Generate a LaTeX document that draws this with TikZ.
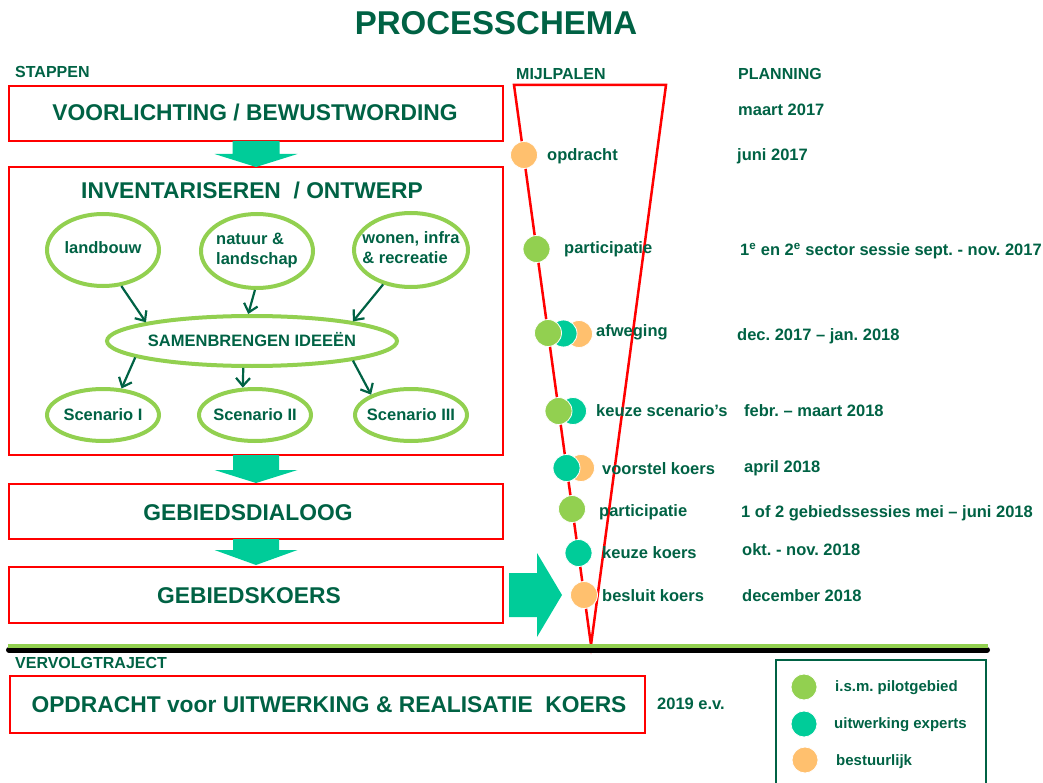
\documentclass[tikz,border=0pt]{standalone}
\usepackage{fontspec}
\setmainfont{Liberation Sans}
\usetikzlibrary{shapes.geometric,arrows.meta,calc}
\frenchspacing
\definecolor{dg}{RGB}{0,98,68}
\definecolor{lg}{RGB}{146,208,80}
\definecolor{tq}{RGB}{0,204,153}
\definecolor{og}{RGB}{255,192,110}
\definecolor{rd}{RGB}{255,0,0}
\newcommand\fL{\fontsize{16.5}{20}\selectfont\bfseries}
\newcommand\fB{\fontsize{22.8}{26}\selectfont\bfseries}
\newcommand\fH{\fontsize{16}{19}\selectfont\bfseries}
\newcommand\fS{\fontsize{15}{18}\selectfont\bfseries}
\newcommand\fT{\fontsize{33}{38}\selectfont\bfseries}
\tikzset{
  box/.style={draw=rd, line width=2.5pt, rectangle, inner sep=0, outer sep=0},
  btxt/.style={font=\fB, text=dg, inner sep=0, text height=16.3pt, text depth=0pt},
  lab/.style={anchor=west, inner sep=0, font=\fL, text=dg, text height=11.8pt, text depth=0pt},
  hdr/.style={anchor=west, inner sep=0, font=\fH, text=dg, text height=11.5pt, text depth=0pt},
  legtxt/.style={anchor=west, inner sep=0, font=\fS, text=dg, text height=10.7pt, text depth=0pt},
  elli/.style={ellipse, draw=lg, line width=4pt, inner sep=0, font=\fL, text=dg},
  one/.style={text height=11.8pt, text depth=0pt},
  dot/.style={circle, draw=white, line width=0.8pt, minimum size=27pt, inner sep=0},
  ldot/.style={circle, draw=white, line width=0.8pt, minimum size=26pt, inner sep=0},
  arr/.style={draw=dg, line width=2.2pt, -{Straight Barb[length=8pt,width=14pt]}},
  blk/.style={fill=tq},
}
\begin{document}
\frenchspacing
\begin{tikzpicture}[x=1pt,y=-1pt]
\useasboundingbox (0,0) rectangle (1043,783);

% title and headers
\node[font=\fT, text=dg, inner sep=0, text height=23.6pt, text depth=0pt] (title) at (496,22.5) {PROCESSCHEMA};
\node[hdr] (hstap) at (15,72) {STAPPEN};
\node[hdr] (hmijl) at (516,74) {MIJLPALEN};
\node[hdr] (hplan) at (738,74) {PLANNING};

% step boxes
\node[box, minimum width=494pt, minimum height=55pt] (b1) at (256,113.5) {};
\node[box, minimum width=494pt, minimum height=288pt] (b2) at (256,311) {};
\node[box, minimum width=494pt, minimum height=55pt] (b3) at (256,511.5) {};
\node[box, minimum width=494pt, minimum height=56pt] (b4) at (256,595) {};
\node[box, minimum width=635pt, minimum height=57pt] (b5) at (327.5,704.5) {};

\node[btxt] (t1) at (255,112) {VOORLICHTING / BEWUSTWORDING};
\node[btxt] (t2) at (252,190) {INVENTARISEREN\ \ / ONTWERP};
\node[btxt] (t3) at (248,512) {GEBIEDSDIALOOG};
\node[btxt] (t4) at (249,595) {GEBIEDSKOERS};
\node[btxt] (t5) at (329,704) {OPDRACHT voor UITWERKING \& REALISATIE\ \ KOERS};

% block arrows between boxes
\fill[blk] ($(b1.south)+(-23.5,0)$) -- ($(b1.south)+(23.5,0)$) -- ($(b1.south)+(23.5,13)$) -- ($(b1.south)+(41.5,13)$)
  -- (b2.north) -- ($(b1.south)+(-41.5,13)$) -- ($(b1.south)+(-23.5,13)$) -- cycle;
\fill[blk] ($(b2.south)+(-23,0)$) -- ($(b2.south)+(23,0)$) -- ($(b2.south)+(23,15)$) -- ($(b2.south)+(41.5,15)$)
  -- ($(b3.north)+(0,-1)$) -- ($(b2.south)+(-41.5,15)$) -- ($(b2.south)+(-23,15)$) -- cycle;
\fill[blk] ($(b3.south)+(-23,0)$) -- ($(b3.south)+(23,0)$) -- ($(b3.south)+(23,11)$) -- ($(b3.south)+(41.5,11)$)
  -- ($(b4.north)+(0,-2)$) -- ($(b3.south)+(-41.5,11)$) -- ($(b3.south)+(-23,11)$) -- cycle;
% big arrow to milestones
\fill[blk] ($(b4.east)+(6,-22)$) -- ($(b4.east)+(34,-22)$) -- ($(b4.east)+(34,-42)$) -- ($(b4.east)+(59,0)$)
  -- ($(b4.east)+(34,42)$) -- ($(b4.east)+(34,22)$) -- ($(b4.east)+(6,22)$) -- cycle;

% ellipses
\node[elli, minimum width=112pt, minimum height=72pt] (land) at (103,250) {\makebox[0pt]{\raisebox{4pt}{landbouw}}};
\node[elli, minimum width=112pt, minimum height=74pt] (nat) at (257,251) {\makebox[0pt]{\raisebox{2pt}{\begin{tabular}{@{}l@{}}natuur \&\\landschap\end{tabular}}}};
\node[elli, minimum width=114pt, minimum height=74pt] (won) at (411,250) {\makebox[0pt]{\raisebox{1pt}{\begin{tabular}{@{}l@{}}wonen, infra\\\& recreatie\end{tabular}}}};
\node[elli, one, minimum width=290pt, minimum height=50pt] (sam) at (252,341) {\makebox[0pt]{SAMENBRENGEN IDEEËN}};
\node[elli, one, minimum width=112pt, minimum height=52pt] (s1) at (103,415) {\makebox[0pt]{Scenario I}};
\node[elli, one, minimum width=112pt, minimum height=52pt] (s2) at (255,415) {\makebox[0pt]{Scenario II}};
\node[elli, one, minimum width=112pt, minimum height=52pt] (s3) at (411,415) {\makebox[0pt]{Scenario III}};

\draw[arr] (land.-63) -- (sam.170);
\draw[arr] (nat.-93) -- (sam.98);
\draw[arr] (won.-129) -- (sam.11);
\draw[arr] (sam.-172) -- (s1.55);
\draw[arr] (sam.-108) -- (s2.114);
\draw[arr] (sam.-11) -- (s3.153);

% funnel
\coordinate (ftl) at (514,85);
\coordinate (ftr) at (666,85);
\coordinate (ftip) at (591,645);
\draw[rd, line width=2.5pt, line join=miter] (ftl) -- (ftip) -- (ftr) -- cycle;

% milestone dots
\node[dot, fill=og] (m1) at (524,155) {};
\node[dot, fill=lg] (m2) at (536.5,249) {};
\node[dot, fill=og] (m3c) at (579,334) {};
\node[dot, fill=tq] (m3b) at (563.5,333.5) {};
\node[dot, fill=lg] (m3a) at (548,333) {};
\node[dot, fill=tq] (m4b) at (573,411) {};
\node[dot, fill=lg] (m4a) at (558.5,411) {};
\node[dot, fill=og] (m5b) at (581,468) {};
\node[dot, fill=tq] (m5a) at (566.5,468) {};
\node[dot, fill=lg] (m6) at (572,509) {};
\node[dot, fill=tq] (m7) at (578.5,553) {};
\node[dot, fill=og] (m8) at (584,595) {};

% milestone labels
\node[lab] (l1) at (547,155) {opdracht};
\node[lab] (l2) at (564,248) {participatie};
\node[lab] (l3) at (596,331) {afweging};
\node[lab] (l4) at (596,411) {keuze scenario's};
\node[lab] (l5) at (602,469) {voorstel koers};
\node[lab] (l6) at (599,511) {participatie};
\node[lab] (l7) at (602,553) {keuze koers};
\node[lab] (l8) at (602,596) {besluit koers};

% planning
\node[lab] (p0) at (738,110) {maart 2017};
\node[lab] (p1) at (737,155) {juni 2017};
\node[lab] (p2) at (740,250) {1\textsuperscript{e} en 2\textsuperscript{e} sector sessie sept. - nov. 2017};
\node[lab] (p3) at (737,335) {dec. 2017 – jan. 2018};
\node[lab] (p4) at (744,411) {febr. – maart 2018};
\node[lab] (p5) at (744,467) {april 2018};
\node[lab] (p6) at (741,512) {1 of 2 gebiedssessies mei – juni 2018};
\node[lab] (p7) at (742,550) {okt. - nov. 2018};
\node[lab] (p8) at (742,596) {december 2018};

% baseline
\coordinate (bl) at (9,646);
\coordinate (br) at (987,646);
\draw[black, line width=6pt, line cap=round] ($(bl)+(0,4)$) -- ($(br)+(0,4)$);
\draw[lg, line width=3.5pt] ($(bl)+(-1,0)$) -- ($(br)+(1,0)$);

\node[hdr] (hverv) at (15,663) {VERVOLGTRAJECT};
\node[lab] (p9) at (657,704) {2019 e.v.};

% legend
\node[draw=dg, line width=2pt, minimum width=210pt, minimum height=140pt, inner sep=0] (leg) at (881,730) {};
\node[ldot, fill=lg] (g1) at (804,687) {};
\node[ldot, fill=tq] (g2) at (804,724) {};
\node[ldot, fill=og] (g3) at (805,760) {};
\node[legtxt] (gl1) at (835,686) {i.s.m. pilotgebied};
\node[legtxt] (gl2) at (834,723) {uitwerking experts};
\node[legtxt] (gl3) at (836,760) {bestuurlijk};
\end{tikzpicture}
\end{document}
